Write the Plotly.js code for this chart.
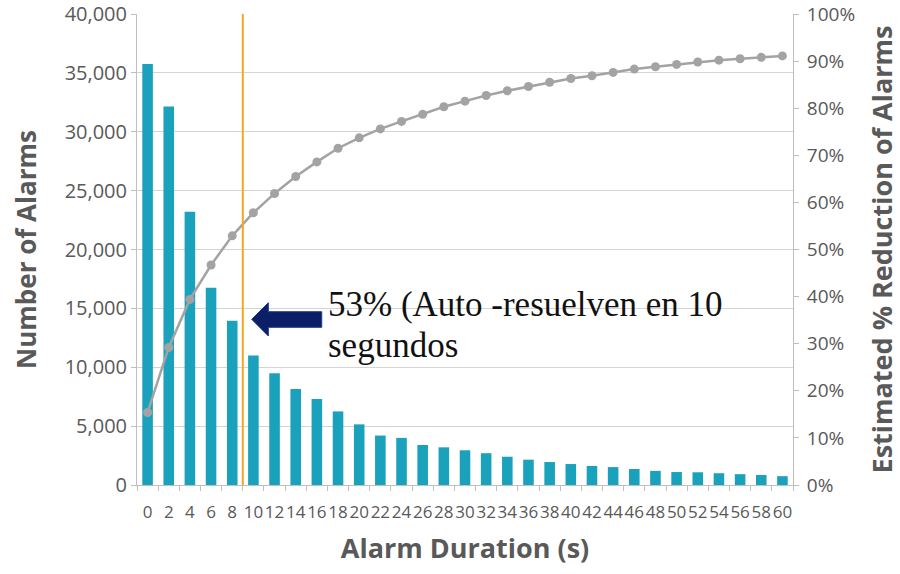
<!DOCTYPE html>
<html>
<head>
<meta charset="utf-8">
<script src="https://cdn.plot.ly/plotly-3.0.1.min.js"></script>
<style>html,body{margin:0;padding:0;background:#fff;}#chart{width:900px;height:574px;}</style>
</head>
<body>
<div id="chart"></div>
<script>
const durations = ["0","2","4","6","8","10","12","14","16","18","20","22","24","26","28","30","32","34","36","38","40","42","44","46","48","50","52","54","56","58","60"];
const alarmCounts = [35750,32150,23200,16750,13950,11000,9500,8150,7300,6250,5150,4200,4000,3400,3200,2950,2700,2400,2150,1950,1780,1620,1520,1360,1200,1100,1080,1000,920,850,750];
const reductionPct = [0.154,0.292,0.394,0.467,0.529,0.578,0.619,0.655,0.686,0.715,0.737,0.756,0.772,0.787,0.803,0.815,0.827,0.837,0.846,0.855,0.863,0.869,0.876,0.883,0.888,0.893,0.898,0.902,0.905,0.908,0.911];
const thresholdIndex = 4.5;
const labelLine1 = "53% (Auto -resuelven en 10";
const labelLine2 = "segundos";

const axisGray = '#595959';
const sans = '"Open Sans", Lato, sans-serif';
const serif = '"Liberation Serif", "Times New Roman", serif';
const traces = [
  {type:'bar', x:durations, y:alarmCounts, marker:{color:'#1aa2bd'}, yaxis:'y'},
  {type:'scatter', mode:'lines+markers', x:durations, y:reductionPct, yaxis:'y2',
   line:{color:'#a3a3a3', width:2.5}, marker:{color:'#a3a3a3', size:9}}
];
const layout = {
  width:900, height:574,
  margin:{l:137, r:107, t:14, b:89},
  paper_bgcolor:'#fff', plot_bgcolor:'#fff',
  showlegend:false, bargap:0.5,
  font:{family:sans, color:axisGray},
  xaxis:{type:'category', range:[-0.5, 30.5], tickson:'boundaries', ticks:'outside', ticklen:5, tickcolor:'#bfbfbf',
    showline:true, linecolor:'#bfbfbf', linewidth:1, showgrid:false, tickangle:0, ticklabelstandoff:12,
    tickfont:{size:17, color:axisGray},
    title:{text:'<b>Alarm Duration (s)</b>', font:{size:27, color:axisGray}, standoff:16}},
  yaxis:{range:[0,40000], dtick:5000, tickformat:',', ticks:'outside', ticklen:5, tickcolor:'#bfbfbf',
    showline:true, linecolor:'#bfbfbf', gridcolor:'#d4d4d4', gridwidth:1, zeroline:false,
    tickfont:{size:20, color:axisGray},
    title:{text:'<b>Number of Alarms</b>', font:{size:26, color:axisGray}, standoff:20}},
  yaxis2:{overlaying:'y', side:'right', range:[0,1], dtick:0.1, tickformat:'.0%', ticks:'outside', ticklen:5,
    tickcolor:'#bfbfbf', showline:true, linecolor:'#bfbfbf', showgrid:false, zeroline:false, ticklabelstandoff:4,
    tickfont:{size:19, color:axisGray},
    title:{text:'<b>Estimated % Reduction of Alarms</b>', font:{size:27, color:axisGray}, standoff:18}},
  shapes:[
    {type:'line', xref:'x', yref:'paper', x0:thresholdIndex, x1:thresholdIndex, y0:0, y1:1,
     line:{color:'#f5a623', width:2}},
    {type:'path', xref:'paper', yref:'paper',
     path:'M0.1748,0.3518 L0.2002,0.3870 L0.2002,0.3679 L0.2816,0.3679 L0.2816,0.3348 L0.2002,0.3348 L0.2002,0.3163 Z',
     fillcolor:'#0b1f66', line:{color:'#1c3a8a', width:1}}
  ],
  annotations:[
    {xref:'paper', yref:'paper', x:0.2885, y:0.338, xanchor:'left', yanchor:'bottom', showarrow:false,
     text:labelLine1, font:{family:serif, size:35, color:'#111'}},
    {xref:'paper', yref:'paper', x:0.2885, y:0.25, xanchor:'left', yanchor:'bottom', showarrow:false,
     text:labelLine2, font:{family:serif, size:35, color:'#111'}}
  ]
};
Plotly.newPlot('chart', traces, layout, {displayModeBar:false, staticPlot:true});
</script>
</body>
</html>
